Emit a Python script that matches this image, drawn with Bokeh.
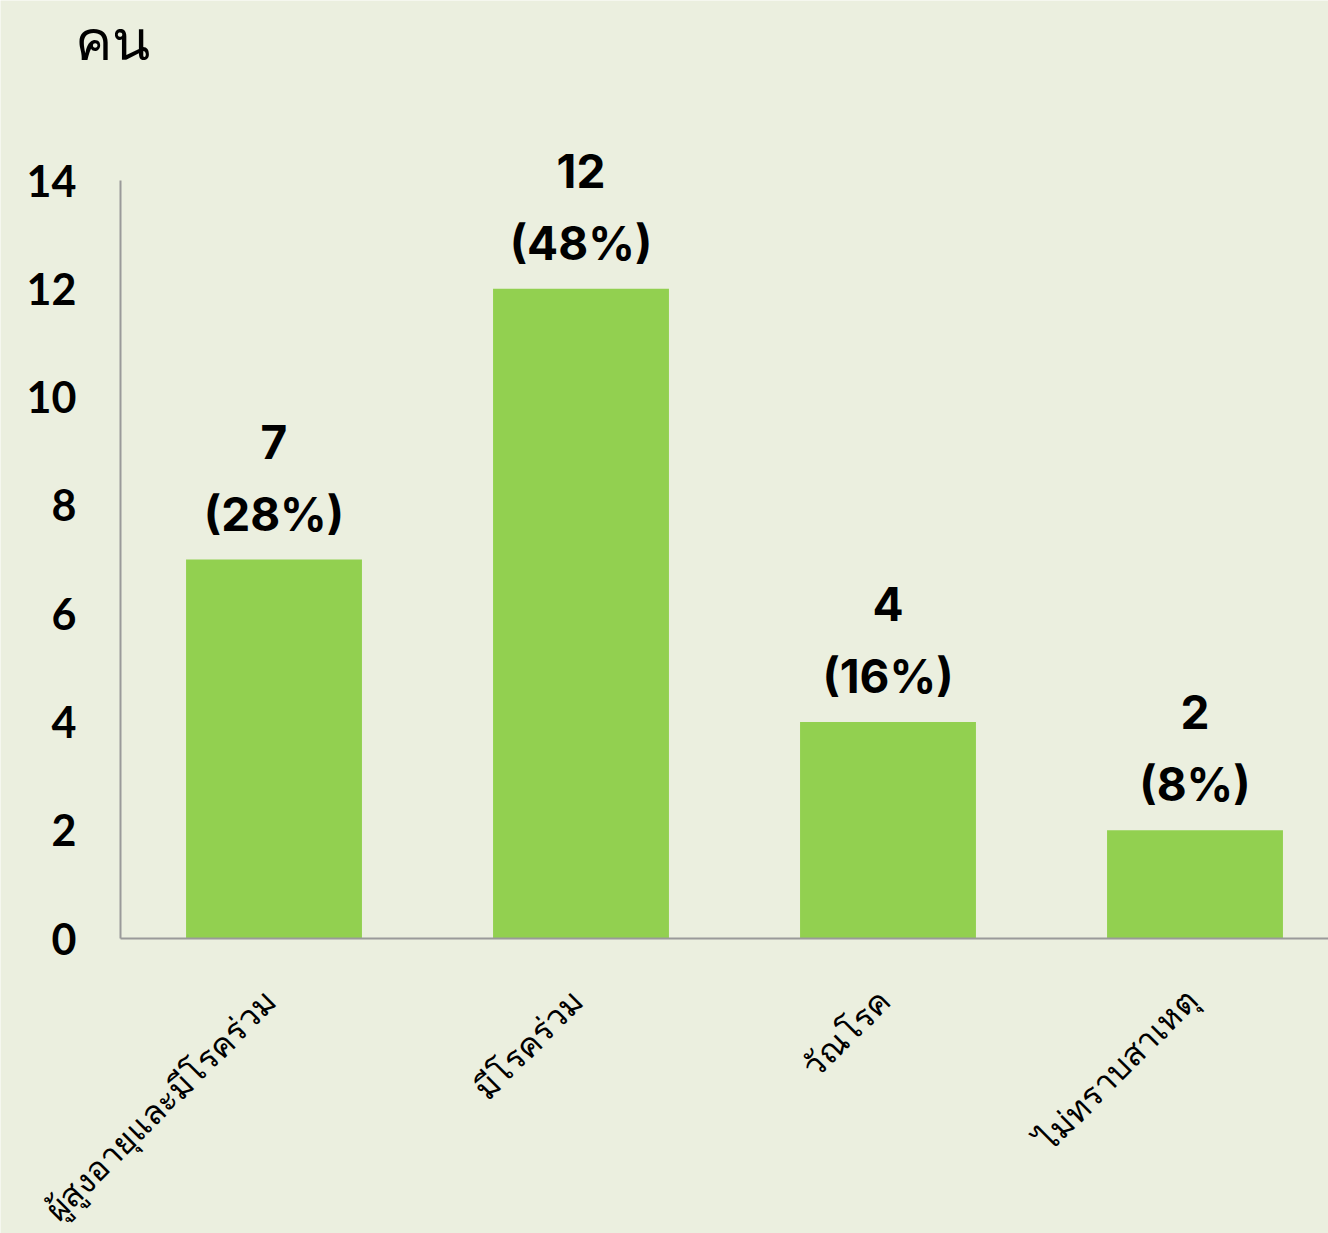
import math
from bokeh.plotting import figure
from bokeh.models import Range1d, FixedTicker, ColumnDataSource
from bokeh.core.properties import value
from bokeh.embed import file_html
from bokeh.resources import INLINE

categories = ["ผู้สูงอายุและมีโรคร่วม", "มีโรคร่วม", "วัณโรค", "ไม่ทราบสาเหตุ"]
counts = [7, 12, 4, 2]
percents = [28, 48, 16, 8]
y_ticks = [0, 2, 4, 6, 8, 10, 12, 14]
y_unit_label = "คน"

BG = "#EBEFDF"
BAR = "#92D050"

W, H = 1328, 1233
AXIS_X = 120          # pixel column of the value axis
ZERO_Y = 938          # pixel row of value 0
PX_PER_CAT = 307
PX_PER_UNIT = 758 / 14

positions = [i + 0.5 for i in range(len(categories))]
src = ColumnDataSource(dict(
    x=positions,
    count=counts,
    count_label=[str(c) for c in counts],
    pct_label=["(%d%%)" % v for v in percents],
))
cat_src = ColumnDataSource(dict(x=positions, y=[0] * len(positions), name=categories))
unit_src = ColumnDataSource(dict(x=[-8 / PX_PER_CAT], y=[901 / PX_PER_UNIT], t=[y_unit_label]))

x_end = (W - AXIS_X) / PX_PER_CAT
p = figure(width=W, height=H,
           x_range=Range1d(-AXIS_X / PX_PER_CAT, x_end),
           y_range=Range1d(-(H - ZERO_Y) / PX_PER_UNIT, ZERO_Y / PX_PER_UNIT),
           output_backend="svg", toolbar_location=None,
           min_border_left=0, min_border_right=0,
           min_border_top=0, min_border_bottom=0)
p.background_fill_color = BG
p.border_fill_color = BG
p.outline_line_color = None
p.grid.visible = False

p.vbar(x="x", top="count", width=0.573, source=src,
       fill_color=BAR, line_color=None)

p.text(x="x", y="count", text="count_label", source=src,
       text_align="center", text_baseline="middle", y_offset=-118,
       text_font=value("Inter"), text_font_style="bold",
       text_font_size="46px", text_color="black")
p.text(x="x", y="count", text="pct_label", source=src,
       text_align="center", text_baseline="middle", y_offset=-46,
       text_font=value("Inter"), text_font_style="bold",
       text_font_size="46px", text_color="black")

# category labels, rotated 45 degrees below the baseline
p.text(x="x", y="y", text="name", source=cat_src, angle=math.pi / 4,
       text_align="right", text_baseline="middle",
       x_offset=-4, y_offset=56,
       text_font=value("Noto Sans"), text_font_size="33px", text_color="black")

# unit label "คน"
p.text(x="x", y="y", text="t", source=unit_src,
       text_align="center", text_baseline="middle",
       text_font=value("Noto Sans"), text_font_size="56px", text_color="black")

# y axis at x = 0
ya = p.yaxis[0]
ya.fixed_location = 0
ya.ticker = FixedTicker(ticks=y_ticks)
ya.bounds = (0, 14)
ya.axis_line_color = "#9A9A9A"
ya.axis_line_width = 2
ya.major_tick_line_color = None
ya.minor_tick_line_color = None
ya.major_label_standoff = 38
ya.major_label_text_font = "Lato"
ya.major_label_text_font_style = "bold"
ya.major_label_text_font_size = "43px"
ya.major_label_text_color = "black"

# x axis: baseline at value 0
xa = p.xaxis[0]
xa.fixed_location = 0
xa.bounds = (0, x_end)
xa.ticker = FixedTicker(ticks=[])
xa.axis_line_color = "#9A9A9A"
xa.axis_line_width = 2
xa.major_tick_line_color = None
xa.minor_tick_line_color = None

open("out.html", "w").write(file_html(p, INLINE))
